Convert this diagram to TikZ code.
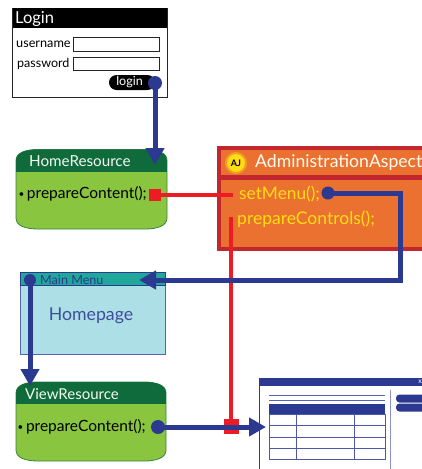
\documentclass[tikz,border=0pt]{standalone}
\usepackage{fontspec}
\setmainfont{Lato}
\usetikzlibrary{arrows.meta,calc}
\definecolor{navy}{HTML}{2B3990}
\definecolor{redl}{HTML}{ED1C24}
\definecolor{dgreen}{HTML}{0F6B3C}
\definecolor{lgreen}{HTML}{8AC53F}
\definecolor{aspect}{HTML}{EA7130}
\definecolor{aspb}{HTML}{C1272D}
\definecolor{yel}{HTML}{FFDD15}
\definecolor{teal2}{HTML}{20A99B}
\definecolor{pale}{HTML}{ADDFE6}
\definecolor{pboxb}{HTML}{5A62B5}
\tikzset{
 lbl/.style={inner sep=0pt,anchor=west,font=\fontsize{#1}{#1}\selectfont},
 blink/.style={draw=navy,line width=5pt},
 rlink/.style={draw=redl,line width=4pt},
 tipv/.style={-{Triangle[length=17pt,width=18pt,fill=navy]}},
 dot/.style={circle,fill=navy,inner sep=0pt,minimum size=#1},
 rsq/.style={fill=redl,inner sep=0pt,minimum size=#1},
 field/.style={draw=black!85,line width=.8pt,fill=white,inner sep=0pt,anchor=north west},
}
\newcommand{\resshape}[4]{% x1 y1 x2 y2
 (#1,#2+11) .. controls (#1,#2+3) and (#1+10,#2) .. (#1+22,#2) -- (#3-22,#2)
 .. controls (#3-10,#2) and (#3,#2+3) .. (#3,#2+11) -- (#3,#4-11)
 .. controls (#3,#4-3) and (#3-10,#4) .. (#3-22,#4) -- (#1+22,#4)
 .. controls (#1+10,#4) and (#1,#4-3) .. (#1,#4-11) -- cycle}
\newcommand{\smallbul}{\raisebox{1pt}{\fontsize{10}{10}\selectfont•}\hspace{2.5pt}}
\begin{document}
\begin{tikzpicture}[x=1pt,y=-1pt]
\useasboundingbox (0,0) rectangle (422,469);
% login
\path[draw=black!85,line width=.9pt,fill=white] (12.5,8.5) rectangle (167,97);
\fill[black] (12.5,8) rectangle (167,28);
\node[lbl=16.5,text=white] (logintitle) at (15,18.5) {Login};
\node[lbl=12.7] (user) at (16,44.5) {username};
\node[lbl=12.5] (pass) at (17,63.5) {password};
\node[field,minimum width=86pt,minimum height=13.5pt] (ufield) at (73,37) {};
\node[field,minimum width=86pt,minimum height=13.5pt] (pfield) at (73,56.5) {};
\node[fill=black,rounded corners=7.5pt,minimum width=46pt,minimum height=15pt,inner sep=0pt,text=white,font=\fontsize{12.5}{12.5}\selectfont,anchor=center] (loginbtn) at (132,82.5) {login\hspace*{5pt}};
\node[dot=14pt] (logindot) at (155,83) {};
% home resource
\begin{scope}
\draw[draw=dgreen!70!lgreen,line width=.8pt,fill=lgreen] \resshape{16}{149.5}{167}{229};
\clip \resshape{16}{149.5}{167}{229};
\fill[dgreen] (16,149) rectangle (167,172);
\end{scope}
\node[lbl=15.2,text=white!92!lgreen] (hometitle) at (29,161.5) {HomeResource};
\coordinate (hometop) at (155,165);
\node[lbl=15.5] (homecode) at (18.5,194) {\smallbul prepareContent();};
\node[rsq=12pt] (homesq) at (155,195) {};
% aspect
\fill[aspb] (217,146) rectangle (422,251);
\fill[aspect] (221,150) rectangle (422,175);
\fill[aspect] (221,180) rectangle (422,247);
\node[circle,fill=yel,draw=aspect!60!yel,line width=2pt,minimum size=20pt,inner sep=0pt,font=\bfseries\fontsize{9}{9}\selectfont] (aj) at (236,163) {AJ};
\node[lbl=17.6,text=white!95!yel] (asptitle) at (255,163) {AdministrationAspect};
\node[lbl=17.3,text=yel] (setmenu) at (239,194.5) {setMenu();};
\node[lbl=17.5,text=yel] (prepctl) at (237,219.5) {prepareControls();};
\node[dot=13pt] (menudot) at (328,193) {};
\coordinate (redend) at (233,195);
\coordinate (ctltop) at (231,216.5);
% main menu page
\draw[draw=pboxb,line width=.9pt,fill=pale] (20,272.5) rectangle (165,354);
\draw[draw=navy,line width=.8pt,fill=teal2] (20,272.5) rectangle (165,285.5);
\node[lbl=12.6,text=navy] (mainmenu) at (40,280) {Main Menu};
\node[inner sep=0pt,text=navy!90!white,font=\fontsize{17.7}{17.7}\selectfont] (homepage) at (91,315.5) {Homepage};
\node[dot=12pt] (mmdot) at (30,280) {};
\coordinate (mmtip) at (139,280);
% view resource
\begin{scope}
\draw[draw=dgreen!70!lgreen,line width=.8pt,fill=lgreen] \resshape{16}{382}{166}{461};
\clip \resshape{16}{382}{166}{461};
\fill[dgreen] (16,382) rectangle (166,404);
\end{scope}
\node[lbl=15,text=white!92!lgreen] (viewtitle) at (25,394) {ViewResource};
\node[lbl=15.5] (viewcode) at (17.5,426.5) {\smallbul prepareContent();};
\node[dot=14pt] (viewdot) at (158,427) {};
\coordinate (viewtop) at (30,386);
% window
\draw[navy,line width=1pt] (259,469) -- (259,378) -- (422,378);
\fill[navy] (259,378) rectangle (422,386);
\node[inner sep=0pt,text=white,font=\fontsize{7}{7}\selectfont] (winx) at (420,382) {x};
\draw[pboxb,line width=.7pt] (269,395.5) -- (385,395.5) (269,400) -- (385,400);
\fill[navy] (269,404) rectangle (385,414.5);
\draw[pboxb!70!navy,line width=1pt] (269,414) rectangle (385,459.5)
 (269,425.5) -- (385,425.5) (269,437) -- (385,437) (269,448.5) -- (385,448.5)
 (296,414) -- (296,459.5) (354,414) -- (354,459.5);
\draw[pboxb!70,line width=.8pt] (390.5,390) -- (390.5,469);
\fill[navy,rounded corners=3.5pt] (396,394.5) rectangle (430,402.5);
\fill[navy,rounded corners=3.5pt] (396,403.5) rectangle (430,411.5);
\coordinate (wintip) at (266,427);
% red links
\draw[rlink] (homesq.east) -- (redend);
\node[rsq=15pt] (winsq) at (231,426.5) {};
\draw[rlink] (ctltop) -- (winsq.north);
% blue links
\draw[blink,tipv] (logindot.center) -- (hometop);
\draw[blink,tipv] (menudot.center) -| (400,280) -- (mmtip);
\draw[blink,tipv] (mmdot.center) -- (viewtop);
\draw[blink,tipv] (viewdot.center) -- (wintip);
\end{tikzpicture}
\end{document}
